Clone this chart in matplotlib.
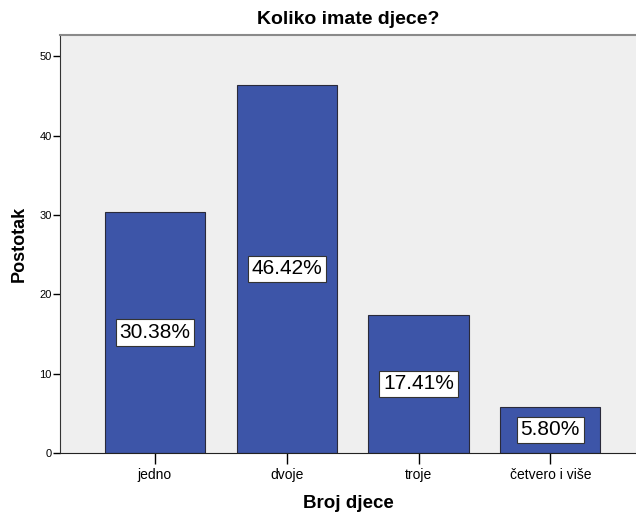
import matplotlib
matplotlib.use("Agg")
import matplotlib.pyplot as plt

plt.rcParams["font.family"] = ["Liberation Sans", "DejaVu Sans"]

# data
kategorije = ["jedno", "dvoje", "troje", "četvero i više"]
postotci = [30.38, 46.42, 17.41, 5.80]

fig = plt.figure(figsize=(6.36, 5.14), dpi=100)
ax = fig.add_axes([60 / 636, 61 / 514, 576 / 636, 418 / 514])
ax.set_facecolor("#efefef")

x = list(range(len(kategorije)))
ax.bar(x, postotci, width=0.76, color="#3d55a8", edgecolor="#2a2a3a", linewidth=0.8, zorder=2)

# labels in the middle of each bar, SPSS style
for xi, v in zip(x, postotci):
    ax.text(xi, v / 2, f"{v:.2f}%", ha="center", va="center", fontsize=15,
            bbox=dict(boxstyle="square,pad=0.18", facecolor="white", edgecolor="#333333", linewidth=0.8),
            zorder=3)

ax.set_xlim(-0.72, 3.65)
ax.set_ylim(0, 52.7)
ax.set_yticks([0, 10, 20, 30, 40, 50])
ax.set_xticks(x)
ax.set_xticklabels(kategorije, fontsize=10)
ax.tick_params(axis="y", labelsize=8, length=5, width=1, pad=1)
ax.tick_params(axis="x", length=8, width=1, pad=3)

ax.spines["right"].set_visible(False)
ax.spines["top"].set_color("#8a8a8a")
ax.spines["top"].set_linewidth(1.5)
ax.spines["left"].set_color("#333333")
ax.spines["bottom"].set_color("#222222")

ax.set_title("Koliko imate djece?", fontsize=14, fontweight="bold", pad=8)
ax.set_xlabel("Broj djece", fontsize=13.5, fontweight="bold", labelpad=9)
ax.set_ylabel("Postotak", fontsize=13, fontweight="bold", labelpad=8)

fig.savefig("out.png", dpi=100)
